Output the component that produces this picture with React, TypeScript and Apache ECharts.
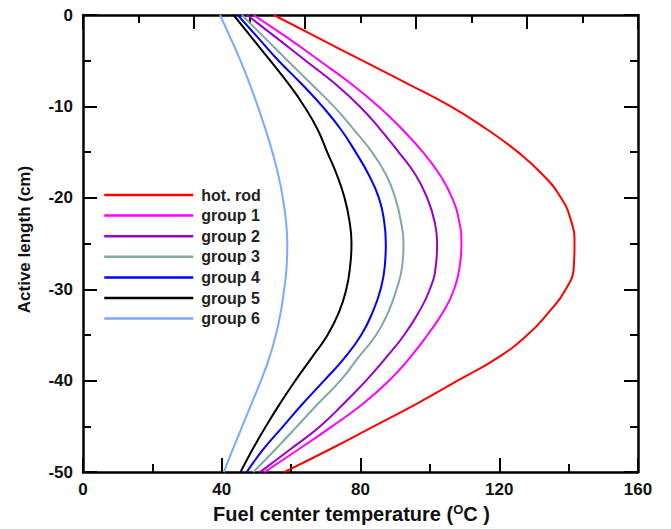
import React, { useEffect, useRef } from "react";
import * as echarts from "echarts";

// Axial positions along the active length (cm)
const depth = [0, -2.5, -5, -7.5, -10, -12.5, -15, -17.5, -20, -22.5, -25, -27.5, -30, -32.5, -35, -37.5, -40, -42.5, -45, -47.5, -50];

// Fuel center temperature (°C) at each axial position
const hotRod = [55.0, 67.8, 80.6, 93.5, 106.0, 116.4, 125.4, 132.6, 137.8, 140.7, 141.7, 141.5, 139.2, 134.3, 128.1, 119.5, 108.0, 96.3, 83.8, 71.2, 58.0];
const group1 = [49.2, 59.0, 68.2, 77.2, 85.2, 92.0, 98.0, 102.9, 106.4, 108.4, 109.1, 108.6, 107.0, 103.8, 99.3, 94.2, 88.2, 80.8, 71.8, 62.2, 52.3];
const group2 = [47.3, 55.8, 64.2, 72.6, 79.8, 85.7, 91.0, 95.9, 99.2, 101.3, 102.1, 101.7, 100.0, 96.8, 92.6, 87.3, 81.6, 75.2, 68.3, 59.8, 51.0];
const group3 = [45.8, 52.4, 59.0, 65.7, 72.3, 78.0, 83.3, 87.4, 90.0, 91.6, 92.4, 92.0, 90.4, 88.0, 84.5, 79.3, 74.2, 67.8, 61.7, 55.5, 49.1];
const group4 = [44.6, 50.5, 56.4, 62.9, 69.0, 74.3, 78.6, 82.4, 85.3, 86.8, 87.3, 87.0, 85.8, 83.5, 80.2, 75.4, 69.5, 63.4, 57.7, 52.0, 47.2];
const group5 = [43.4, 48.7, 54.0, 59.2, 63.8, 67.6, 70.4, 73.2, 75.4, 76.8, 77.4, 77.0, 75.9, 73.8, 70.5, 65.9, 61.2, 56.8, 52.7, 48.9, 45.4];
const group6 = [39.5, 42.5, 45.4, 48.0, 50.4, 52.6, 54.6, 56.3, 57.6, 58.5, 58.9, 58.7, 58.0, 57.0, 55.6, 53.7, 51.3, 48.6, 45.9, 43.2, 40.6];

const seriesNames = ["hot. rod", "group 1", "group 2", "group 3", "group 4", "group 5", "group 6"];
const seriesValues = [hotRod, group1, group2, group3, group4, group5, group6];
const seriesColors = ["#ff0000", "#ff00ff", "#9900cc", "#7fa8a6", "#0000ff", "#000000", "#7aaaff"];

const xTicks = { min: 0, max: 160, interval: 40 };
const yTicks = { min: -50, max: 0, interval: 10 };

const FONT = "'Liberation Sans', Arial, sans-serif";

export default function App() {
  const ref = useRef<HTMLDivElement>(null);

  useEffect(() => {
    document.body.style.margin = "0";
    if (!ref.current) return;
    const chart = echarts.init(ref.current, undefined, { renderer: "svg" });

    const axisLine = { show: true, onZero: false, lineStyle: { color: "#000", width: 2.5 } };
    const axisTick = { show: true, inside: true, length: 14, lineStyle: { color: "#000", width: 2 } };
    const minorTick = { show: true, splitNumber: 2, length: 8, lineStyle: { color: "#000", width: 2 } };
    const labelStyle = { fontFamily: FONT, fontWeight: "bold" as const, fontSize: 17, color: "#111" };
    const nameStyle = { fontFamily: FONT, fontWeight: "bold" as const, fontSize: 20, color: "#111" };

    chart.setOption({
      animation: false,
      backgroundColor: "#fff",
      grid: { left: 83, right: 33, top: 15, bottom: 52 },
      legend: {
        orient: "vertical",
        left: 98,
        top: 182,
        itemWidth: 89,
        itemHeight: 14,
        itemGap: 4.6,
        data: seriesNames,
        itemStyle: { opacity: 0 },
        lineStyle: { width: 2.5 },
        textStyle: { fontFamily: FONT, fontWeight: "bold", fontSize: 16, color: "#222", lineHeight: 14, padding: [0, 0, 0, 3] },
      },
      xAxis: [
        {
          type: "value",
          position: "bottom",
          min: xTicks.min,
          max: xTicks.max,
          interval: xTicks.interval,
          axisLine,
          axisTick,
          minorTick,
          splitLine: { show: false },
          minorSplitLine: { show: false },
          axisLabel: { ...labelStyle, margin: 9 },
          name: "{n|Fuel center temperature (}{sup|O}{n|C )}",
          nameLocation: "middle",
          nameGap: 30,
          nameTextStyle: {
            ...nameStyle,
            padding: [0, 18, 0, 0],
            rich: {
              n: { ...nameStyle, lineHeight: 22 },
              sup: { fontFamily: FONT, fontWeight: "bold", fontSize: 13, color: "#111", verticalAlign: "top", lineHeight: 22 },
            },
          },
        },
        {
          type: "value",
          position: "top",
          min: 0,
          max: 200,
          interval: 40,
          axisLine,
          axisTick,
          minorTick,
          splitLine: { show: false },
          minorSplitLine: { show: false },
          axisLabel: { show: false },
        },
      ],
      yAxis: [
        {
          type: "value",
          position: "left",
          min: yTicks.min,
          max: yTicks.max,
          interval: yTicks.interval,
          axisLine,
          axisTick,
          minorTick,
          splitLine: { show: false },
          minorSplitLine: { show: false },
          axisLabel: { ...labelStyle, margin: 10 },
          name: "Active length (cm)",
          nameLocation: "middle",
          nameGap: 50,
          nameTextStyle: { ...nameStyle, fontSize: 17, padding: [0, 0, 0, 8] },
        },
        {
          type: "value",
          position: "right",
          min: yTicks.min,
          max: yTicks.max,
          interval: yTicks.interval,
          axisLine,
          axisTick,
          minorTick,
          splitLine: { show: false },
          minorSplitLine: { show: false },
          axisLabel: { show: false },
        },
      ],
      series: seriesNames.map((name, i) => ({
        name,
        type: "line",
        xAxisIndex: 0,
        yAxisIndex: 0,
        symbol: "none",
        smooth: 0.5,
        color: seriesColors[i],
        lineStyle: { color: seriesColors[i], width: 2 },
        data: seriesValues[i].map((t, k) => [t, depth[k]]),
      })),
    });

    return () => chart.dispose();
  }, []);

  return <div ref={ref} style={{ width: 671, height: 529 }} />;
}
